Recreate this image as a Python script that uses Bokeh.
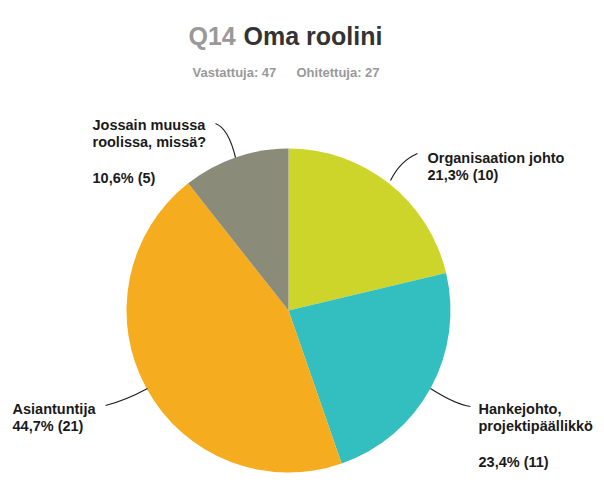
import math
from bokeh.plotting import figure
from bokeh.models import Range1d, ColumnDataSource
from bokeh.core.properties import value
from bokeh.embed import file_html
from bokeh.resources import INLINE

# ---- data ----
categories = ["Organisaation johto", "Hankejohto,\nprojektipäällikkö", "Asiantuntija", "Jossain muussa\nroolissa, missä?"]
counts = [10, 11, 21, 5]
answered = 47
skipped = 27
colors = ["#cdd52b", "#33bfbf", "#f5ad1f", "#8b8b79"]

W, H = 604, 485
p = figure(width=W, height=H, output_backend="svg", toolbar_location=None,
           x_range=Range1d(0, W), y_range=Range1d(0, H), min_border=0)
p.axis.visible = False
p.grid.visible = False
p.outline_line_color = None
p.background_fill_color = "white"

def Y(ypx):
    return H - ypx

# pie
cx, cy, r = 288, Y(310), 162
total = sum(counts)
starts, ends = [], []
a = math.pi / 2
for c in counts:
    da = 2 * math.pi * c / total
    ends.append(a)
    starts.append(a - da)
    a -= da
src = ColumnDataSource(dict(start=starts, end=ends, color=colors))
p.wedge(x=cx, y=cy, radius=r, start_angle="start", end_angle="end",
        fill_color="color", line_color=None, source=src)

# title
FONT = value("Liberation Sans")
p.text(x=[188], y=[Y(35)], text=["Q14"], text_font=FONT, text_font_style="bold",
       text_font_size="25px", text_color="#999999", text_baseline="alphabetic")
p.text(x=[243], y=[Y(35)], text=["Oma roolini"], text_font=FONT, text_font_style="bold",
       text_font_size="25px", text_color="#333333", text_baseline="alphabetic")
p.text(x=[192, 296], y=[Y(72), Y(72)], text=[f"Vastattuja: {answered}", f"Ohitettuja: {skipped}"],
       text_font=FONT, text_font_style="bold", text_font_size="13px",
       text_color="#999999", text_baseline="alphabetic")

def pct(c):
    return f"{100 * c / total:.1f}".replace(".", ",") + f"% ({c})"

LS = 17
# label layout: (x, baseline of first line, pct baseline)
layout = [
    (427, 157, None),
    (478, 408, 461),
    (12, 408, None),
    (92, 124, 177),
]
xs, ys, ts = [], [], []
for cat, c, (lx, ly, py) in zip(categories, counts, layout):
    lines = cat.split("\n")
    for i, ln in enumerate(lines):
        xs.append(lx); ys.append(Y(ly + i * LS)); ts.append(ln)
    if py is None:
        py = ly + len(lines) * LS
    xs.append(lx); ys.append(Y(py)); ts.append(pct(c))
p.text(x=xs, y=ys, text=ts, text_font=FONT, text_font_style="bold",
       text_font_size="14.5px", text_color="#1a1a1a", text_baseline="alphabetic")

# leader lines (curved)
leaders = [
    ((417, 153), (400, 160), (390, 180)),
    ((470, 406), (455, 404), (430, 388)),
    ((105, 405), (125, 400), (147, 388)),
    ((215, 123), (228, 128), (235, 157)),
]
p.quadratic(x0=[l[0][0] for l in leaders], y0=[Y(l[0][1]) for l in leaders],
            cx=[l[1][0] for l in leaders], cy=[Y(l[1][1]) for l in leaders],
            x1=[l[2][0] for l in leaders], y1=[Y(l[2][1]) for l in leaders],
            line_color="#222222", line_width=1.2)

open("out.html", "w").write(file_html(p, INLINE))
